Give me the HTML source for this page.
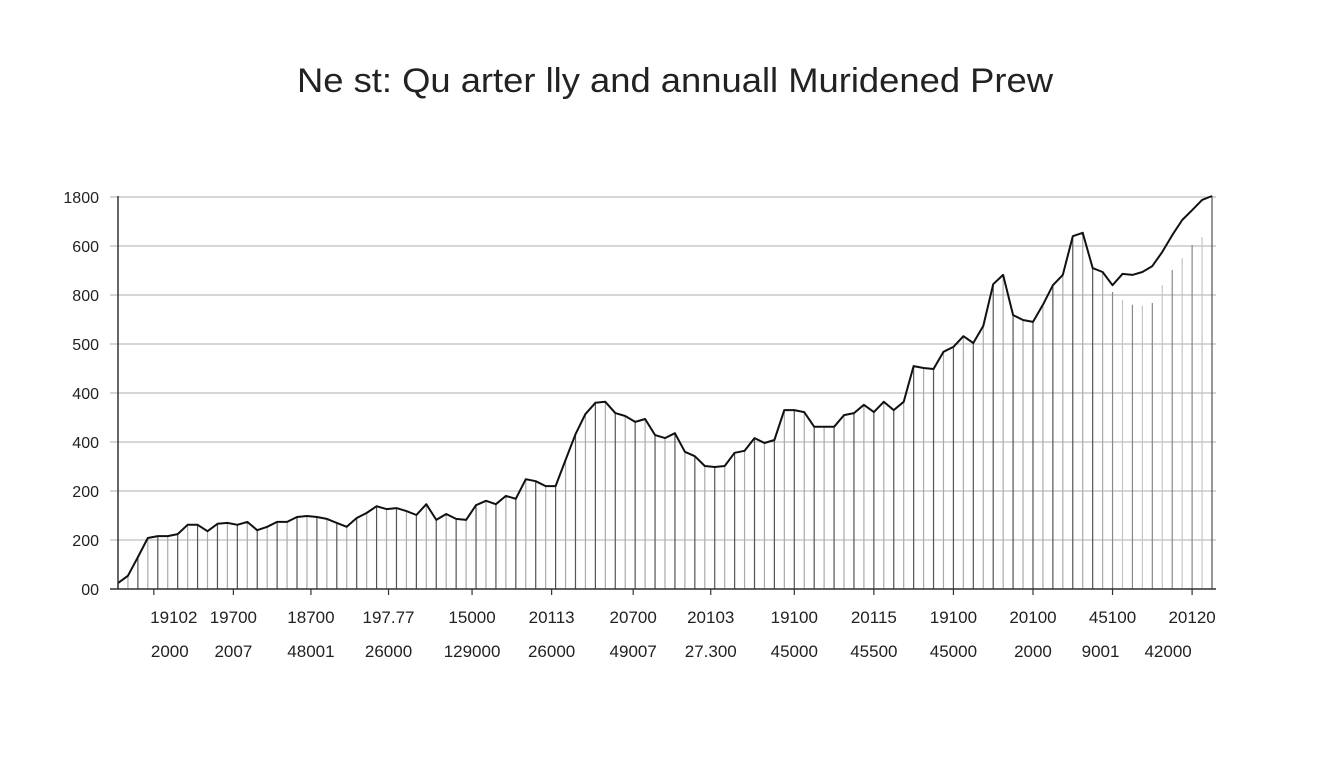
<!DOCTYPE html>
<html><head><meta charset="utf-8"><style>
body{margin:0;background:#fff;font-family:"Liberation Sans",sans-serif}
svg text{font-family:"Liberation Sans",sans-serif;fill:#222}
</style></head><body>
<svg id="chart" width="1344" height="768" xmlns="http://www.w3.org/2000/svg">
<text x="675" y="92" text-anchor="middle" font-size="34" textLength="756" lengthAdjust="spacingAndGlyphs">Ne st: Qu arter lly and annuall Muridened Prew</text>
<g id="grid"></g>
<g id="bars"></g>
<g id="axes"></g>
</svg>
<script>
const quarterlyValues=[12,27,65,104,108,108,112,131,131,118,133,135,131,137,120,127,137,137,147,149,147,143,135,127,145,155,169,163,165,159,151,173,141,153,143,141,171,180,173,190,184,224,220,210,210,263,316,357,380,382,359,353,341,347,314,308,318,280,271,251,249,251,278,282,308,298,304,365,365,361,331,331,331,355,359,376,361,382,365,382,455,451,449,484,494,516,502,537,622,641,559,549,545,580,620,641,720,727,655,647,620,643,641,647,659,688,722,753,773,794,802];
const annualStart=100;
const annualValues=[606,590,580,578,584,620,651,675,702,718,800];
const yTickValues=[0,100,200,300,400,500,600,700,800];
const yTickLabels=["00","200","200","400","400","500","800","600","1800"];
const xTickIdx=[3.6,11.6,19.4,27.2,35.6,43.6,51.8,59.6,68,76,84,92,100,108];
const xTopLabels=["19102","19700","18700","197.77","15000","20113","20700","20103","19100","20115","19100","20100","45100","20120"];
const xBottomLabels=["2000","2007","48001","26000","129000","26000","49007","27.300","45000","45500","45000","2000","9001","42000"];
const NS="http://www.w3.org/2000/svg";
const X0=118,X1=1212,Y0=589,Y1=197;
const n=quarterlyValues.length;
const xs=i=>X0+i*(X1-X0)/(n-1);
const ys=v=>Y0-v*(Y0-Y1)/800;
function mk(tag,attrs,parent){const e=document.createElementNS(NS,tag);for(const k in attrs)e.setAttribute(k,attrs[k]);parent.appendChild(e);return e;}
const grid=document.getElementById('grid'),bars=document.getElementById('bars'),axes=document.getElementById('axes');
yTickValues.forEach((v,k)=>{
  const l=mk('line',{x1:110,x2:1216,y1:ys(v),y2:ys(v),stroke:'#bdbdbd','stroke-width':1.2},grid);
  
  
  const t=mk('text',{x:99,y:ys(v)+6,'text-anchor':'end','font-size':16},axes);
  t.textContent=yTickLabels[k];
  
  
});
quarterlyValues.forEach((v,i)=>{
  let top=v,col=(i%2===0)?'#555':'#aaa';
  if(i>=annualStart&&i<n-1){top=annualValues[i-annualStart];col=(i%2===0)?'#888':'#c4c4c4';}
  const b=mk('line',{x1:xs(i),x2:xs(i),y1:Y0,y2:ys(top),stroke:col,'stroke-width':1.2},bars);
  
  
});
const pts=quarterlyValues.map((v,i)=>xs(i).toFixed(1)+','+ys(v).toFixed(1)).join(' ');
const pl=mk('polyline',{points:pts,fill:'none',stroke:'#111','stroke-width':2,'stroke-linejoin':'round'},bars);


const ya=mk('line',{x1:X0,x2:X0,y1:196,y2:Y0,stroke:'#333','stroke-width':1.5},axes);


const xa=mk('line',{x1:110,x2:1216,y1:Y0,y2:Y0,stroke:'#333','stroke-width':1.5},axes);


xTickIdx.forEach((idx,k)=>{
  const x=xs(idx);
  const tk=mk('line',{x1:x,x2:x,y1:Y0,y2:Y0+6,stroke:'#333','stroke-width':1.2},axes);
  
  
  const t1=mk('text',{x:x+(k===0?20:0),y:623,'text-anchor':'middle','font-size':17},axes);
  t1.textContent=xTopLabels[k];
  
  
  const t2=mk('text',{x:x+(k===0?16:0)-(k>=12?(k-11)*12:0),y:657,'text-anchor':'middle','font-size':17},axes);
  t2.textContent=xBottomLabels[k];
  
  
});
</script>
</body></html>
